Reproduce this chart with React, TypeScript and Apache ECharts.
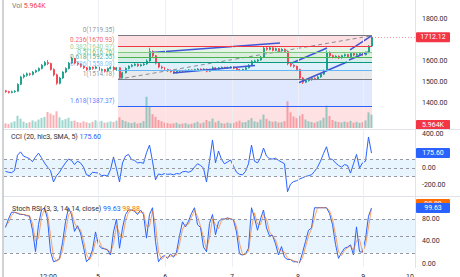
import { useEffect, useRef } from 'react';
import * as echarts from 'echarts';

// OHLC bars: [open, close, low, high]
const CANDLES: number[][] = [
  [1460, 1456, 1450, 1464], [1456, 1452, 1447, 1460], [1452, 1455, 1448, 1461], [1455, 1458, 1450, 1463],
  [1458, 1490, 1455, 1495], [1490, 1525, 1486, 1530], [1525, 1533, 1518, 1540], [1533, 1540, 1526, 1546],
  [1540, 1537, 1530, 1545], [1537, 1548, 1532, 1553], [1548, 1555, 1543, 1560], [1555, 1565, 1550, 1570],
  [1565, 1580, 1560, 1586], [1580, 1593, 1575, 1600], [1593, 1588, 1580, 1605], [1588, 1560, 1555, 1592],
  [1560, 1535, 1528, 1565], [1535, 1495, 1488, 1540], [1495, 1520, 1490, 1526], [1520, 1548, 1515, 1552],
  [1548, 1565, 1543, 1570], [1565, 1590, 1560, 1596], [1590, 1612, 1585, 1620], [1612, 1590, 1584, 1615],
  [1590, 1585, 1578, 1596], [1585, 1575, 1569, 1590], [1575, 1568, 1562, 1580], [1568, 1560, 1553, 1572],
  [1560, 1570, 1556, 1575], [1570, 1565, 1559, 1574], [1565, 1572, 1561, 1578], [1572, 1556, 1550, 1575],
  [1556, 1560, 1551, 1565], [1560, 1552, 1546, 1563], [1552, 1565, 1549, 1569], [1565, 1570, 1560, 1575],
  [1570, 1560, 1555, 1576], [1560, 1568, 1553, 1572], [1568, 1522, 1514, 1570], [1522, 1545, 1518, 1549],
  [1545, 1565, 1541, 1570], [1565, 1575, 1560, 1580], [1575, 1580, 1570, 1586], [1580, 1585, 1575, 1590],
  [1585, 1578, 1572, 1589], [1578, 1582, 1573, 1587], [1582, 1586, 1577, 1592], [1586, 1600, 1582, 1608],
  [1600, 1645, 1596, 1662], [1645, 1625, 1618, 1650], [1625, 1590, 1584, 1628], [1590, 1572, 1566, 1594],
  [1572, 1568, 1561, 1578], [1568, 1560, 1554, 1572], [1560, 1555, 1549, 1564], [1555, 1550, 1545, 1560],
  [1550, 1545, 1540, 1554], [1545, 1552, 1541, 1556], [1552, 1555, 1547, 1559], [1555, 1553, 1548, 1558],
  [1553, 1556, 1549, 1560], [1556, 1558, 1551, 1562], [1558, 1555, 1550, 1561], [1555, 1560, 1551, 1564],
  [1560, 1562, 1556, 1567], [1562, 1558, 1553, 1565], [1558, 1562, 1554, 1566], [1562, 1552, 1547, 1564],
  [1552, 1560, 1549, 1564], [1560, 1568, 1556, 1575], [1568, 1562, 1558, 1571], [1562, 1568, 1559, 1572],
  [1568, 1570, 1563, 1574], [1570, 1568, 1564, 1573], [1568, 1570, 1564, 1574], [1570, 1572, 1566, 1576],
  [1572, 1566, 1561, 1575], [1566, 1560, 1555, 1569], [1560, 1557, 1552, 1563], [1557, 1560, 1553, 1564],
  [1560, 1568, 1556, 1572], [1568, 1580, 1565, 1585], [1580, 1598, 1576, 1604], [1598, 1600, 1592, 1606],
  [1600, 1605, 1595, 1610], [1605, 1618, 1601, 1624], [1618, 1660, 1614, 1668], [1660, 1655, 1648, 1666],
  [1655, 1662, 1650, 1668], [1662, 1650, 1645, 1665], [1650, 1658, 1646, 1663], [1658, 1648, 1643, 1661],
  [1648, 1655, 1644, 1660], [1655, 1645, 1640, 1659], [1645, 1588, 1580, 1648], [1588, 1580, 1572, 1592],
  [1580, 1575, 1568, 1584], [1575, 1560, 1552, 1578], [1560, 1520, 1512, 1563], [1520, 1500, 1492, 1524],
  [1500, 1508, 1496, 1513], [1508, 1512, 1503, 1516], [1512, 1518, 1507, 1522], [1518, 1515, 1510, 1523],
  [1515, 1525, 1512, 1530], [1525, 1538, 1521, 1542], [1538, 1555, 1534, 1560], [1555, 1640, 1552, 1650],
  [1640, 1625, 1618, 1645], [1625, 1618, 1612, 1630], [1618, 1622, 1613, 1627], [1622, 1615, 1609, 1626],
  [1615, 1625, 1611, 1629], [1625, 1630, 1620, 1635], [1630, 1620, 1615, 1633], [1620, 1635, 1616, 1640],
  [1635, 1628, 1622, 1638], [1628, 1632, 1624, 1637], [1632, 1636, 1628, 1640], [1636, 1630, 1625, 1640],
  [1630, 1640, 1626, 1645], [1640, 1670, 1636, 1675], [1670, 1712.12, 1666, 1719.35],
];

// volume per bar, thousands
const VOLUME_K = [
  2.1, 1.8, 2.5, 3.0, 5.5, 4.2, 2.8, 2.2, 2.6, 3.4,
  2.9, 3.8, 4.5, 5.0, 7.2, 6.5, 5.8, 7.5, 4.8, 3.5,
  4.0, 4.6, 3.1, 3.3, 2.7, 2.4, 3.0, 2.6, 2.2, 2.8,
  3.5, 2.9, 3.2, 2.4, 2.6, 3.0, 2.7, 3.3, 4.8, 3.6,
  3.0, 2.5, 2.2, 2.6, 2.0, 2.3, 3.1, 14.0, 9.5, 6.2,
  5.0, 3.6, 3.0, 2.4, 2.2, 1.9, 2.1, 2.4, 1.8, 2.0,
  2.2, 1.7, 1.9, 2.3, 2.8, 2.1, 2.5, 3.6, 3.0, 4.2,
  2.6, 3.2, 2.2, 2.0, 2.4, 2.1, 2.3, 2.8, 3.3, 2.5,
  2.7, 3.5, 4.4, 3.0, 2.6, 3.8, 6.0, 4.1, 3.2, 2.8,
  3.0, 2.5, 2.6, 3.1, 12.0, 7.0, 5.2, 4.4, 5.5, 6.2,
  3.8, 3.0, 2.7, 2.4, 2.9, 3.4, 4.6, 10.0, 5.4, 3.6,
  3.0, 2.7, 2.5, 2.9, 2.6, 3.2, 2.4, 2.8, 2.3, 2.6,
  3.4, 7.0, 5.964,
];

// CCI (20, hlc3, SMA, 5)
const CCI = [
  -40, -50, -55, -30, 150, 190, 140, 125, 110, 75,
  130, 175, 120, 60, 10, -30, -165, -90, -50, 10,
  60, 105, 90, 40, 80, 60, 10, -80, -90, -50,
  -55, -60, -90, -85, -95, -20, 130, -10, -165, 60,
  140, 160, 100, 90, 60, 65, 55, 180, 270, 80,
  -140, -70, -80, -65, -75, -70, -80, -65, -70, -45,
  -40, -50, -35, 10, 50, 30, 0, -165, 80, 330,
  60, 200, 100, 50, 70, 95, 20, -50, -75, -80,
  -40, 50, 270, 80, 60, 120, 235, 140, 110, 105,
  115, 90, 70, 50, -280, -190, -160, -150, -130, -115,
  -100, -90, -80, -40, 10, 80, 170, 250, 110, 100,
  60, 30, 10, 40, 30, -60, 50, 160, 0, 60,
  80, 365, 175.6,
];

// Stoch RSI (3, 3, 14, 14, close): %K and %D
const STOCH_K = [
  65, 80, 92, 92, 90, 88, 88, 86, 85, 60,
  22, 70, 96, 100, 80, 22, 4, 6, 10, 38,
  75, 100, 88, 58, 68, 55, 30, 4, 10, 25,
  57, 34, 28, 27, 25, 16, 57, 80, 28, 64,
  88, 96, 96, 94, 88, 96, 88, 46, 88, 100,
  40, 4, 12, 15, 10, 18, 12, 21, 50, 75,
  66, 76, 90, 100, 70, 65, 30, 22, 72, 88,
  52, 75, 80, 80, 82, 80, 78, 57, 18, 16,
  18, 28, 100, 82, 60, 80, 96, 64, 50, 51,
  36, 16, 31, 12, 8, 8, 4, 4, 2, 20,
  40, 60, 64, 100, 100, 100, 100, 100, 90, 70,
  35, 10, 20, 28, 30, 34, 16, 66, 22, 21,
  45, 85, 99.63,
];
const STOCH_D = [
  68, 73, 86, 92, 91, 89, 88, 87, 86, 72,
  41, 46, 83, 98, 90, 51, 13, 5, 8, 24,
  56, 87, 94, 73, 63, 61, 42, 17, 7, 17,
  41, 45, 31, 27, 26, 20, 36, 68, 54, 46,
  76, 92, 96, 95, 91, 92, 92, 67, 67, 94,
  70, 22, 8, 13, 12, 14, 15, 16, 35, 62,
  70, 71, 83, 95, 85, 67, 47, 26, 47, 80,
  70, 63, 77, 80, 81, 81, 79, 67, 37, 17,
  17, 23, 64, 91, 71, 70, 88, 80, 57, 50,
  43, 26, 23, 21, 10, 8, 6, 4, 3, 11,
  30, 50, 62, 82, 100, 100, 100, 100, 95, 80,
  52, 22, 15, 24, 29, 32, 25, 41, 44, 21,
  33, 65, 98.88,
];

// Fibonacci retracement drawing
const FIB_LEVELS = [0, 0.236, 0.382, 0.5, 0.618, 0.786, 1, 1.618];
const FIB_PRICES = [1719.35, 1670.93, 1640.97, 1616.76, 1592.55, 1558.08, 1514.18, 1387.37];
const FIB_COLORS = ['#787b86', '#f23645', '#81c784', '#4caf50', '#089981', '#64b5f6', '#787b86', '#2962ff'];
// each band takes the colour of the level below it (the last one is the 2.618 red)
const FIB_FILLS = [
  'rgba(242,54,69,0.16)', 'rgba(129,199,132,0.2)', 'rgba(76,175,80,0.2)', 'rgba(8,153,129,0.17)',
  'rgba(100,181,246,0.2)', 'rgba(120,123,134,0.17)', 'rgba(41,98,255,0.15)', 'rgba(242,54,69,0.15)',
];
const FIB_SPAN = [37.5, 122.17]; // bar positions of the drawing's two anchors
const FIB_TREND = [[37.5, 1514.18], [122.17, 1719.35]];

// parallel channel drawings, each line as two [bar, price] anchors
const CHANNEL_LINES = [
  [[48.83, 1640], [91.5, 1684.7]],
  [[55.83, 1543.5], [83.17, 1578.8]],
  [[95.5, 1590.6], [107.17, 1661.2]],
  [[97.5, 1496.5], [113.83, 1595.3]],
  [[114.83, 1651.8], [121.83, 1717.6]],
  [[114.5, 1604.7], [120.83, 1642.4]],
];

const TIME_TICKS = [14.2, 30.8, 53.2, 75.5, 97.5, 119.2, 134.8];
const TIME_LABELS = ['12:00', '5', '6', '7', '8', '9', '10'];
const TIME_GRID = [30.8, 53.2, 75.5, 97.5, 119.2];

const PRICE_TICKS = [1400, 1500, 1600, 1800];
const CCI_TICKS = [400, 0, -200];
const STOCH_TICKS = [80, 40, 0];
const CCI_LINES = [100, 0, -100];
const STOCH_LINES = [80, 50, 20];

const LAST_VOLUME = '5.964K';
const SLOTS = 137; // bar slots across the pane, the last ones left empty

const FONT = 'Roboto, "Liberation Sans", sans-serif';
const TXT = '#2a2e39';
const UP = '#089981';
const DOWN = '#f23645';

const PRICE_MIN = 1284.7;
const PRICE_MAX = 1887.06;

export default function App() {
  const ref = useRef<HTMLDivElement>(null);

  useEffect(() => {
    const chart = echarts.init(ref.current!, null, { renderer: 'svg' });
    const slots = Array.from({ length: SLOTS }, (_, i) => String(i));
    const last = CANDLES[CANDLES.length - 1][1];
    const cciLast = CCI[CCI.length - 1];
    const kLast = STOCH_K[STOCH_K.length - 1];
    const dLast = STOCH_D[STOCH_D.length - 1];

    const gridBase = { left: 4, right: 45, outerBoundsMode: 'none', containLabel: false };
    const hiddenCat = (gridIndex: number) => ({
      type: 'category', gridIndex, data: slots, boundaryGap: true, show: false,
    });
    const hiddenVal = (gridIndex: number) => ({
      type: 'value', gridIndex, min: -0.5, max: SLOTS - 0.5, show: false,
    });
    const rightAxis = (gridIndex: number, min: number, max: number, ticks: number[]) => ({
      type: 'value', gridIndex, position: 'right', min, max,
      axisLine: { show: false }, axisTick: { show: false }, splitLine: { show: false },
      axisLabel: {
        customValues: ticks, formatter: (v: number) => v.toFixed(2),
        color: TXT, fontSize: 7, fontFamily: FONT, align: 'left', margin: 7,
      },
    });
    const vgrid = (xAxisIndex: number, yAxisIndex: number, y: number) => ({
      type: 'line', xAxisIndex, yAxisIndex, data: [[0, y]], symbol: 'none', silent: true, z: 0,
      lineStyle: { opacity: 0 },
      markLine: {
        silent: true, symbol: ['none', 'none'], label: { show: false },
        lineStyle: { color: '#eceef3', type: 'solid', width: 1 },
        data: TIME_GRID.map((t) => ({ xAxis: t })),
      },
    });
    const bandLines = (xAxisIndex: number, yAxisIndex: number, lines: number[], lo: number, hi: number) => ({
      type: 'line', xAxisIndex, yAxisIndex, data: [[0, lo]], symbol: 'none', silent: true, z: 1,
      lineStyle: { opacity: 0 },
      markArea: {
        silent: true, itemStyle: { color: 'rgba(33,150,243,0.1)' },
        data: [[{ coord: [-0.5, hi] }, { coord: [SLOTS - 0.5, lo] }]],
      },
      markLine: {
        silent: true, symbol: ['none', 'none'], label: { show: false },
        lineStyle: { color: '#9598a1', type: [3, 3], width: 1 },
        data: lines.map((v) => ({ yAxis: v })),
      },
    });

    chart.setOption({
      animation: false,
      backgroundColor: '#ffffff',
      textStyle: { fontFamily: FONT },
      title: [
        {
          left: 12, top: 2, padding: 0, text: `Vol {r|${LAST_VOLUME}}`,
          textStyle: { fontSize: 7, color: '#787b86', fontWeight: 'normal', fontFamily: FONT, rich: { r: { color: DOWN, fontSize: 7, fontFamily: FONT } } },
        },
        {
          left: 11, top: 133, padding: 0, text: `CCI (20, hlc3, SMA, 5) {v|${cciLast.toFixed(2)}}`,
          textStyle: { fontSize: 7, color: TXT, fontWeight: 'normal', fontFamily: FONT, rich: { v: { color: '#2962ff', fontSize: 7, fontFamily: FONT } } },
        },
        {
          left: 12, top: 205, padding: 0,
          text: `Stoch RSI (3, 3, 14, 14, close) {k|${kLast.toFixed(2)}} {d|${dLast.toFixed(2)}}`,
          textStyle: {
            fontSize: 7, color: TXT, fontWeight: 'normal', fontFamily: FONT,
            rich: { k: { color: '#2962ff', fontSize: 7, fontFamily: FONT }, d: { color: '#ff6d00', fontSize: 7, fontFamily: FONT } },
          },
        },
      ],
      grid: [
        { ...gridBase, top: 0, height: 128 },
        { ...gridBase, top: 95, height: 33 },
        { ...gridBase, top: 130, height: 65 },
        { ...gridBase, top: 197, height: 70 },
      ],
      xAxis: [
        hiddenCat(0),
        hiddenCat(1),
        hiddenVal(0),
        hiddenVal(2),
        {
          type: 'value', gridIndex: 3, min: -0.5, max: SLOTS - 0.5,
          axisLine: { show: false }, axisTick: { show: false }, splitLine: { show: false },
          axisLabel: {
            customValues: TIME_TICKS,
            formatter: (v: number) => TIME_LABELS[TIME_TICKS.indexOf(v)] ?? '',
            color: TXT, fontSize: 7, fontFamily: FONT, margin: 6,
          },
        },
      ],
      yAxis: [
        rightAxis(0, PRICE_MIN, PRICE_MAX, PRICE_TICKS),
        { type: 'value', gridIndex: 1, min: 0, max: 14.8, show: false },
        rightAxis(2, -317.6, 447.06, CCI_TICKS),
        rightAxis(3, -5.33, 119.1, STOCH_TICKS),
      ],
      series: [
        vgrid(2, 0, 1500),
        vgrid(3, 2, 0),
        vgrid(4, 3, 50),
        // Fibonacci bands, levels and labels
        {
          type: 'line', xAxisIndex: 2, yAxisIndex: 0, data: [[FIB_SPAN[0], FIB_PRICES[0]]],
          symbol: 'none', silent: true, z: 1, lineStyle: { opacity: 0 },
          markArea: {
            silent: true,
            data: FIB_PRICES.map((p, k) => [
              { coord: [FIB_SPAN[0], p], itemStyle: { color: FIB_FILLS[k] } },
              { coord: [FIB_SPAN[1], k + 1 < FIB_PRICES.length ? FIB_PRICES[k + 1] : PRICE_MIN] },
            ]),
          },
          markLine: {
            silent: true, symbol: ['none', 'none'], label: { show: false },
            data: FIB_PRICES.map((p, k) => [
              { coord: [FIB_SPAN[0], p], lineStyle: { color: FIB_COLORS[k], width: 1, type: 'solid' } },
              { coord: [FIB_SPAN[1], p] },
            ]),
          },
        },
        // last price line, from the last bar to the scale
        {
          type: 'line', xAxisIndex: 2, yAxisIndex: 0, data: [[FIB_SPAN[1], last]], symbol: 'none', silent: true, z: 1,
          lineStyle: { opacity: 0 },
          markLine: {
            silent: true, symbol: ['none', 'none'], label: { show: false },
            lineStyle: { color: DOWN, type: [1, 2], width: 1, opacity: 0.5 },
            data: [[{ coord: [FIB_SPAN[1], last] }, { coord: [SLOTS - 0.5, last] }]],
          },
        },
        {
          type: 'bar', xAxisIndex: 1, yAxisIndex: 1, barWidth: 2, z: 2, silent: true,
          data: VOLUME_K.map((v, i) => ({
            value: v,
            itemStyle: { color: CANDLES[i][1] >= CANDLES[i][0] ? 'rgba(8,153,129,0.4)' : 'rgba(242,54,69,0.4)' },
          })),
        },
        {
          type: 'candlestick', xAxisIndex: 0, yAxisIndex: 0, barWidth: 1.5, z: 3, silent: true,
          data: CANDLES,
          itemStyle: { color: UP, color0: DOWN, borderColor: UP, borderColor0: DOWN, borderWidth: 0.8 },
        },
        {
          type: 'line', xAxisIndex: 2, yAxisIndex: 0, data: FIB_TREND, symbol: 'none', silent: true, z: 4,
          lineStyle: { color: '#8a8d96', width: 1, type: [4, 3] },
        },
        ...CHANNEL_LINES.map((seg) => ({
          type: 'line', xAxisIndex: 2, yAxisIndex: 0, data: seg, symbol: 'none', silent: true, z: 4,
          lineStyle: { color: '#3f55d6', width: 1.5 },
        })),
        {
          type: 'scatter', xAxisIndex: 2, yAxisIndex: 0, symbolSize: 1, silent: true, z: 5,
          itemStyle: { color: 'rgba(0,0,0,0)' },
          data: FIB_PRICES.map((p, k) => ({
            value: [FIB_SPAN[0], p],
            label: { color: FIB_COLORS[k] },
          })),
          label: {
            show: true, position: 'left', distance: 3, offset: [0, -5.5],
            fontSize: 6.5, fontFamily: FONT,
            formatter: (pr: any) => `${FIB_LEVELS[pr.dataIndex]}(${FIB_PRICES[pr.dataIndex].toFixed(2)})`,
          },
        },
        // CCI pane
        bandLines(3, 2, CCI_LINES, -100, 100),
        {
          type: 'line', xAxisIndex: 3, yAxisIndex: 2, symbol: 'none', silent: true, z: 3,
          data: CCI.map((v, i) => [i, v]),
          lineStyle: { color: '#2962ff', width: 1 },
        },
        // Stoch RSI pane
        bandLines(4, 3, STOCH_LINES, 20, 80),
        {
          type: 'line', xAxisIndex: 4, yAxisIndex: 3, symbol: 'none', silent: true, z: 3,
          data: STOCH_K.map((v, i) => [i, v]),
          lineStyle: { color: '#2962ff', width: 1 },
        },
        {
          type: 'line', xAxisIndex: 4, yAxisIndex: 3, symbol: 'none', silent: true, z: 3,
          data: STOCH_D.map((v, i) => [i, v]),
          lineStyle: { color: '#ff6d00', width: 1, opacity: 0.6 },
        },
      ],
    });

    // value tags on the price scales, placed through the axes
    const yOf = (axis: number, v: number) => chart.convertToPixel({ yAxisIndex: axis }, v) as number;
    const tag = (y: number, text: string, fill: string) => ({
      type: 'group',
      z: 100,
      children: [
        { type: 'rect', shape: { x: 416, y: y - 5, width: 34, height: 10, r: 1 }, style: { fill } },
        {
          type: 'text',
          style: {
            text, x: 433, y, fill: '#ffffff', fontSize: 7, fontFamily: FONT,
            align: 'center', verticalAlign: 'middle',
          },
        },
      ],
    });
    const rule = (x1: number, y1: number, x2: number, y2: number, stroke: string) => ({
      type: 'line', z: 90, silent: true,
      shape: { x1, y1, x2, y2 }, style: { stroke, lineWidth: 1 },
    });

    chart.setOption({
      graphic: [
        rule(415.5, 0, 415.5, 268, '#e0e3eb'),
        rule(3, 129.5, 460, 129.5, '#e0e3eb'),
        rule(3, 196.5, 460, 196.5, '#e0e3eb'),
        rule(3, 0, 3, 277, '#a3a6af'),
        tag(yOf(0, last), last.toFixed(2), DOWN),
        tag(125, LAST_VOLUME, DOWN),
        tag(yOf(2, cciLast), cciLast.toFixed(2), '#2962ff'),
        tag(yOf(3, dLast) - 4.5, dLast.toFixed(2), '#ff6d00'),
        tag(yOf(3, kLast), kLast.toFixed(2), '#2962ff'),
      ],
    });

    return () => chart.dispose();
  }, []);

  return (
    <div
      ref={ref}
      style={{ position: 'fixed', left: 0, top: 0, width: 460, height: 277, background: '#ffffff' }}
    />
  );
}
